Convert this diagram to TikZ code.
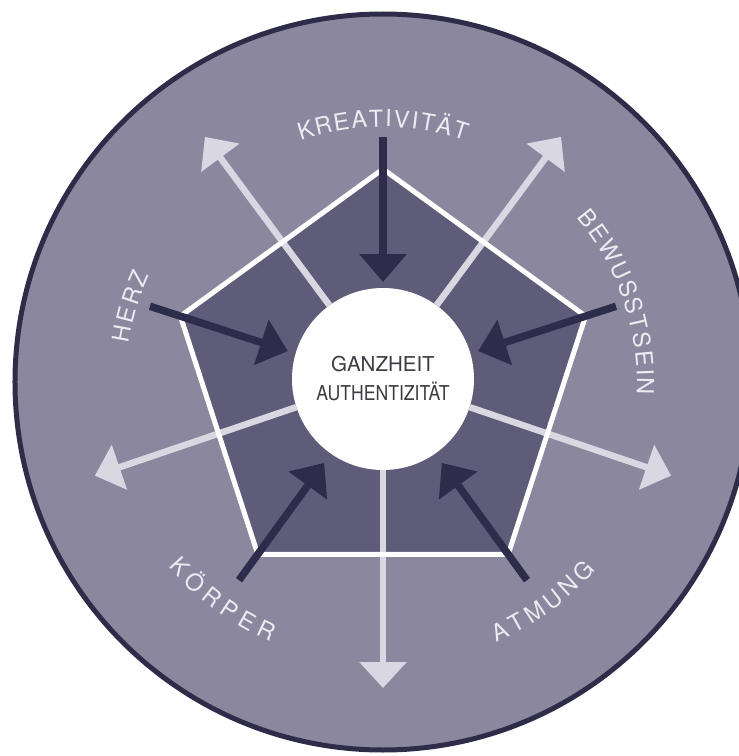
\documentclass[tikz,border=0pt]{standalone}
\usepackage{fontspec}
\setmainfont{TeX Gyre Heros}
\usetikzlibrary{arrows.meta}
\definecolor{outerfill}{HTML}{8A879E}
\definecolor{pentafill}{HTML}{5F5C7A}
\definecolor{darkarrow}{HTML}{2D2C4A}
\definecolor{lightarrow}{HTML}{D9D8E2}
\definecolor{rimline}{HTML}{2E2C48}
\definecolor{labeltext}{HTML}{ECEBF1}
\definecolor{coretext}{HTML}{3C3C44}
\tikzset{
  rim/.style={fill=outerfill, draw=rimline, line width=5pt},
  pentaedge/.style={draw=white, line width=5pt, line join=miter},
  core/.style={circle, fill=white, minimum size=182pt, inner sep=0pt, align=center,
    text=coretext, font=\fontsize{20.5}{29}\selectfont},
  inarrow/.style={draw=darkarrow, line width=7.5pt, -{Triangle[width=46pt,length=28pt]}},
  outarrow/.style={draw=lightarrow, line width=6.5pt, -{Triangle[width=46pt,length=26pt]}},
  rimletter/.style={anchor=base, inner sep=0pt, text=labeltext, font=\fontsize{23.5}{26}\selectfont}
}
\begin{document}
\begin{tikzpicture}[x=1pt,y=1pt]
\useasboundingbox (-383,-374) rectangle (356,382);
\draw[rim] (0,0) circle[radius=368];

\coordinate (v1) at (90:213);
\coordinate (v2) at (162:213);
\coordinate (v3) at (234:213);
\coordinate (v4) at (306:213);
\coordinate (v5) at (18:213);
\fill[pentafill] (v1) -- (v2) -- (v3) -- (v4) -- (v5) -- cycle;

\node[core] (core) at (0,3) {GANZHEIT\\\scalebox{0.86}[1]{AUTHENTIZITÄT}};

\coordinate (out-ul) at (126:303);
\coordinate (out-ur) at (54:303);
\coordinate (out-l) at (198:303);
\coordinate (out-r) at (-18:303);
\coordinate (out-d) at (270:306);
\draw[outarrow] (core.126) -- (out-ul);
\draw[outarrow] (core.54) -- (out-ur);
\draw[outarrow] (core.198) -- (out-l);
\draw[outarrow] (core.-18) -- (out-r);
\draw[outarrow] (core.270) -- (out-d);

\draw[pentaedge] (v1) -- (v2) -- (v3) -- (v4) -- (v5) -- cycle;

\coordinate (kre) at (90:245);
\coordinate (kre-tip) at (90:100);
\coordinate (herz) at (162:245);
\coordinate (herz-tip) at (162:100);
\coordinate (koer) at (234:245);
\coordinate (koer-tip) at (234:100);
\coordinate (atm) at (306:245);
\coordinate (atm-tip) at (306:100);
\coordinate (bew) at (18:245);
\coordinate (bew-tip) at (18:100);
\draw[inarrow] (kre) -- (kre-tip);
\draw[inarrow] (herz) -- (herz-tip);
\draw[inarrow] (koer) -- (koer-tip);
\draw[inarrow] (atm) -- (atm-tip);
\draw[inarrow] (bew) -- (bew-tip);

\foreach \a/\ch [count=\i] in {107.1/K,103.1/R,99.1/E,95.2/A,91.5/T,88.8/I,85.9/V,83.0/I,80.2/T,76.5/Ä,72.8/T}
  \node[rimletter, rotate=\a-90] (kre-\i) at (\a:255) {\ch};
\foreach \a/\ch [count=\i] in {169.6/H,165.4/E,161.1/R,157.0/Z}
  \node[rimletter, rotate=\a-90] (herz-\i) at (\a:257) {\ch};
\foreach \a/\ch [count=\i] in {38.6/B,34.6/E,29.9/W,25.1/U,20.9/S,16.9/S,13.0/T,9.2/S,5.2/E,2.1/I,-1.0/N}
  \node[rimletter, rotate=\a-90] (bew-\i) at (\a:254) {\ch};
\foreach \a/\ch [count=\i] in {222.3/K,226.9/Ö,231.6/R,236.1/P,240.4/E,244.9/R}
  \node[rimletter, rotate=\a+90] (koer-\i) at (\a:283) {\ch};
\foreach \a/\ch [count=\i] in {295.1/A,299.0/T,303.4/M,308.0/U,312.3/N,316.8/G}
  \node[rimletter, rotate=\a+90] (atm-\i) at (\a:284) {\ch};
\end{tikzpicture}
\end{document}
